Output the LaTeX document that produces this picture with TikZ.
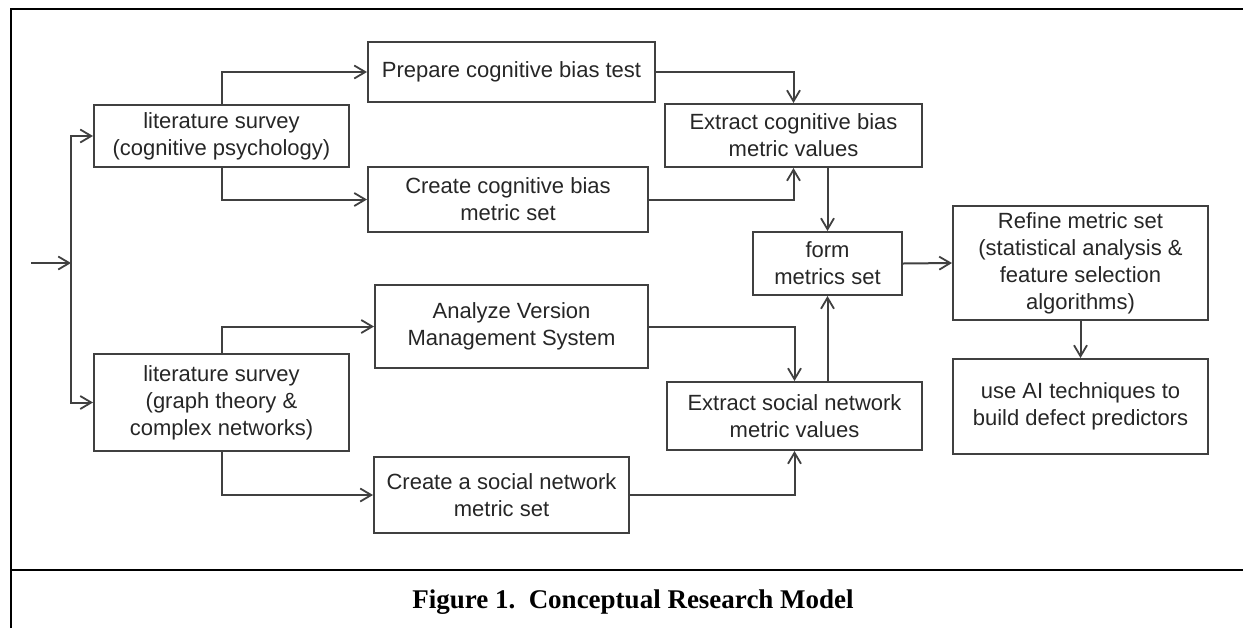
\documentclass[tikz,border=0pt]{standalone}
\usepackage{fontspec}
\setmainfont{Liberation Sans}
\newfontfamily\capfont{Liberation Serif}
\usetikzlibrary{arrows.meta}
\definecolor{boxline}{HTML}{404040}
\definecolor{boxtext}{HTML}{262626}
\tikzset{
  stepbox/.style={draw=boxline, line width=1pt, inner sep=0pt, align=center,
    text=boxtext, font=\fontsize{11}{13.5}\selectfont},
  arr/.style={draw=boxline, line width=1pt, -{Straight Barb[length=5.5pt,width=6.5pt,line width=0.9pt]}},
  frame/.style={draw=black, line width=1.1pt}
}
\begin{document}
\begin{tikzpicture}[x=0.5pt,y=-0.5pt]
\useasboundingbox (0,0) rectangle (1243,628);
% frame
\draw[frame] (11,628) -- (11,9) -- (1243,9);
\draw[frame] (11,570) -- (1243,570);
\node[font=\capfont\bfseries\fontsize{13.5}{16}\selectfont] (cap) at (633,602) {Figure 1.\ \ Conceptual Research Model};
% boxes
\node[stepbox, minimum width=127.5pt, minimum height=31pt] (lit1) at (221.5,136) {literature survey\\(cognitive psychology)};
\node[stepbox, minimum width=143.5pt, minimum height=30pt] (prep) at (511.5,72) {Prepare cognitive bias test};
\node[stepbox, minimum width=140pt, minimum height=32.5pt] (ccog) at (508,199.5) {Create cognitive bias\\metric set};
\node[stepbox, minimum width=128.5pt, minimum height=31.5pt] (ecog) at (793.5,135.5) {Extract cognitive bias\\metric values};
\node[stepbox, minimum width=74.5pt, minimum height=31.5pt] (form) at (827.5,263.5) {form\\metrics set};
\node[stepbox, minimum width=127.5pt, minimum height=57pt] (refine) at (1080.5,263) {Refine metric set\\(statistical analysis \&\\feature selection\\algorithms)};
\node[stepbox, minimum width=127.5pt, minimum height=47.5pt] (useai) at (1080.5,406.5) {use AI techniques to\\build defect predictors};
\node[stepbox, minimum width=127.5pt, minimum height=48.5pt] (lit2) at (221.5,402.5) {literature survey\\(graph theory \&\\complex networks)};
\node[stepbox, minimum width=136.5pt, minimum height=41.5pt] (avms) at (511.5,326.5) {Analyze Version\\Management System};
\node[stepbox, minimum width=127.5pt, minimum height=38pt] (csoc) at (501.5,495) {Create a social network\\metric set};
\node[stepbox, minimum width=127.5pt, minimum height=34pt] (esoc) at (794.5,416) {Extract social network\\metric values};
% connectors
\coordinate (in) at (31,263);
\coordinate (split) at (71,263);
\draw[arr] (in) -- (split);
\draw[arr] (split) |- (lit1.west);
\draw[arr] (split) |- (lit2.west);
\draw[arr] (lit1.north) |- (prep.west);
\draw[arr] (lit1.south) |- (ccog.west);
\draw[arr] (prep.east) -| (ecog.north);
\draw[arr] (ccog.east) -| (ecog.south);
\draw[arr] (ecog.south -| form.north) -- (form.north);
\draw[arr] (esoc.north -| form.south) -- (form.south);
\draw[arr] (form.east) -- (refine.west);
\draw[arr] (refine.south) -- (useai.north);
\draw[arr] (lit2.north) |- (avms.west);
\draw[arr] (lit2.south) |- (csoc.west);
\draw[arr] (avms.east) -| (esoc.north);
\draw[arr] (csoc.east) -| (esoc.south);
\end{tikzpicture}
\end{document}
